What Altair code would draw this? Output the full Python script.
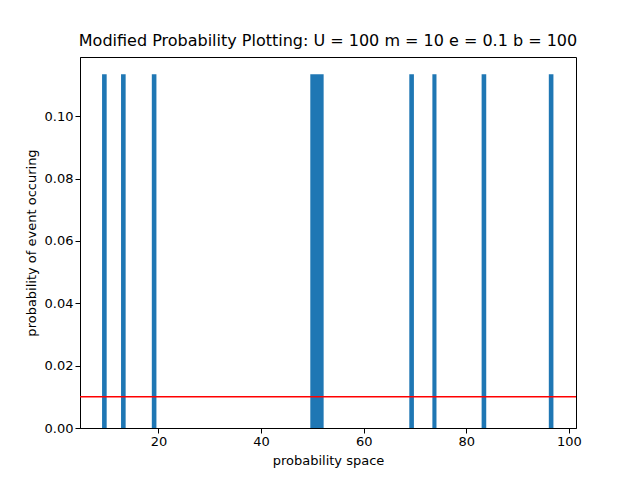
import altair as alt
import pandas as pd

bin_start = [9.0, 12.7, 18.7, 49.6, 68.9, 73.4, 83.0, 96.1]
bin_end = [9.9, 13.6, 19.6, 52.2, 69.8, 74.2, 83.9, 97.0]
density = [0.1135] * 8
threshold = 0.01

df = pd.DataFrame({"x0": bin_start, "x1": bin_end, "p": density})

bars = alt.Chart(df).mark_rect(color="#1f77b4").encode(
    x=alt.X("x0:Q", scale=alt.Scale(domain=[4.7, 101.4], nice=False, zero=False),
            axis=alt.Axis(values=[20, 40, 60, 80, 100], title="probability space", grid=False)),
    x2="x1:Q",
    y=alt.Y("p:Q", scale=alt.Scale(domain=[0, 0.119], nice=False),
            axis=alt.Axis(values=[0, 0.02, 0.04, 0.06, 0.08, 0.10], format=".2f",
                          title="probability of event occuring", grid=False)),
    y2=alt.datum(0),
)

line = alt.Chart(pd.DataFrame({"t": [threshold]})).mark_rule(color="red", strokeWidth=1.5).encode(y="t:Q")

chart = (bars + line).properties(
    width=496, height=371,
    title="Modified Probability Plotting:  U = 100 m = 10 e = 0.1 b = 100",
    autosize=alt.AutoSizeParams(type="none"),
    padding={"left": 72, "top": 49, "right": 56, "bottom": 44},
).configure_view(stroke="black").configure_axis(
    labelFont="DejaVu Sans", titleFont="DejaVu Sans", labelFontSize=13, titleFontSize=13,
    labelFontWeight="normal", titleFontWeight="normal", labelColor="black", titleColor="black",
    domainColor="black", tickColor="black", tickSize=5, titlePadding=6,
).configure_title(font="DejaVu Sans", fontSize=16, fontWeight="normal", offset=8)

chart.save("out.html", embed_options={"renderer": "svg", "actions": False})
